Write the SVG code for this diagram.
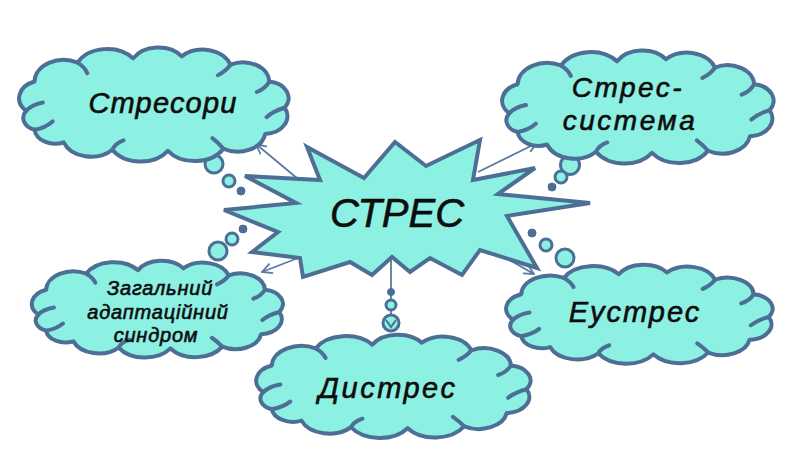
<svg xmlns="http://www.w3.org/2000/svg" xmlns:xlink="http://www.w3.org/1999/xlink" width="800" height="467" viewBox="0 0 800 467">
<style>
.cl{fill:#8cf0e2;stroke:#4d6f96;stroke-width:4;stroke-linejoin:round}
.curl{fill:none;stroke:#4d6f96;stroke-width:4;stroke-linecap:round}
.star{fill:#8cf0e2;stroke:#4d6f96;stroke-width:4;stroke-linejoin:miter}
.bub{fill:#8cf0e2;stroke:#4d6f96;stroke-width:3}
.dot{fill:#4d6f96;stroke:#4d6f96;stroke-width:1}
.ln{fill:none;stroke:#5b7aa6;stroke-width:1.8}
.t{font-family:"Liberation Sans",Arial,sans-serif;font-style:italic;fill:#0d0d0d;stroke:#0d0d0d;stroke-width:0.6;text-anchor:middle}
</style>
<defs>
<g id="cloud">
<path vector-effect="non-scaling-stroke" class="cl" d="M8,58 A17,17 0 0 1 14,30 A21,21 0 0 1 45,12 A24,24 0 0 1 85,8 A21,21 0 0 1 120,6 A21,21 0 0 1 155,14 A19,19 0 0 1 183,30 A16,16 0 0 1 194,55 A17,17 0 0 1 180,80 A20,20 0 0 1 150,94 A24,24 0 0 1 110,96 A24,24 0 0 1 70,95 A21,21 0 0 1 35,88 A15,15 0 0 1 14,76 A12,12 0 0 1 8,58 Z"/>
<path vector-effect="non-scaling-stroke" class="curl" d="M14,76 Q22,74 27,68 M8,58 Q12,52 20,50 M45,12 Q50,16 52,22 M155,14 Q152,20 146,24 M183,30 Q180,37 174,40 M194,55 Q186,58 181,64 M150,94 Q146,88 142,84 M70,95 Q72,89 78,86"/>
</g>
<marker id="ah" viewBox="0 0 12 12" refX="11" refY="6" markerWidth="12" markerHeight="12" markerUnits="userSpaceOnUse" orient="auto">
<path d="M1,1 L11,6 L1,11" fill="none" stroke="#5b7aa6" stroke-width="1.8"/>
</marker>
</defs>
<rect width="800" height="467" fill="#ffffff"/>

<g id="connectors">
<line class="ln" x1="298" y1="179" x2="256" y2="144" marker-end="url(#ah)"/>
<line class="ln" x1="478" y1="172" x2="537" y2="143" marker-end="url(#ah)"/>
<line class="ln" x1="298" y1="258" x2="262" y2="272" marker-end="url(#ah)"/>
<line class="ln" x1="492" y1="250" x2="534" y2="274" marker-end="url(#ah)"/>
<line class="ln" x1="391" y1="258" x2="391" y2="318"/>
<circle class="bub" cx="214" cy="164" r="9"/>
<circle class="bub" cx="229" cy="181" r="6"/>
<circle class="dot" cx="241" cy="191" r="4"/>
<circle class="bub" cx="570" cy="165" r="9.5"/>
<circle class="bub" cx="561" cy="177" r="6"/>
<circle class="dot" cx="552" cy="187" r="4"/>
<circle class="bub" cx="218" cy="251" r="9"/>
<circle class="bub" cx="232" cy="239" r="6"/>
<circle class="dot" cx="243" cy="229" r="4"/>
<circle class="bub" cx="565" cy="258" r="9"/>
<circle class="bub" cx="546" cy="245" r="6"/>
<circle class="dot" cx="532" cy="233" r="4"/>
<circle class="dot" cx="391" cy="292" r="3.5"/>
<circle class="bub" cx="391" cy="305" r="5"/>
<circle class="bub" cx="391" cy="323" r="8"/>
<path d="M386,320 L391,327 L396,320" fill="none" stroke="#4d6f96" stroke-width="2"/>
</g>

<g id="stress">
<polygon class="star" points="307,147 364,178 395,142 426,166 480,140 473,180 535,168 498,194 590,203 507,216 537,268 480,250 462,275 430,258 410,272 392,257 372,275 350,262 303,277 300,258 252,252 278,232 224,210 296,203 245,176 320,180"/>
<text class="t" x="397" y="227" font-size="40" stroke-width="0.9">СТРЕС</text>
</g>

<g id="stressory">
<use xlink:href="#cloud" transform="translate(15,50) scale(1.39,1.05)"/>
<text class="t" x="163" y="113" font-size="29" letter-spacing="1.2">Стресори</text>
</g>

<g id="stress-systema">
<use xlink:href="#cloud" transform="translate(498,53) scale(1.4,1.04)"/>
<text class="t" x="628" y="97" font-size="28" letter-spacing="2.5">Стрес-</text>
<text class="t" x="630" y="130" font-size="28" letter-spacing="2.5">система</text>
</g>

<g id="zahalnyi">
<use xlink:href="#cloud" transform="translate(28,263) scale(1.295,0.89)"/>
<text class="t" x="160" y="295" font-size="20" letter-spacing="0.8">Загальний</text>
<text class="t" x="158" y="319" font-size="20" letter-spacing="0.8">адаптаційний</text>
<text class="t" x="156" y="342" font-size="20" letter-spacing="0.8">синдром</text>
</g>

<g id="dystres">
<use xlink:href="#cloud" transform="translate(252,337) scale(1.415,0.95)"/>
<text class="t" x="388" y="398" font-size="29" letter-spacing="2.5">Дистрес</text>
</g>

<g id="eustres">
<use xlink:href="#cloud" transform="translate(502,267) scale(1.375,0.91)"/>
<text class="t" x="635" y="322" font-size="29" letter-spacing="2">Еустрес</text>
</g>
</svg>
